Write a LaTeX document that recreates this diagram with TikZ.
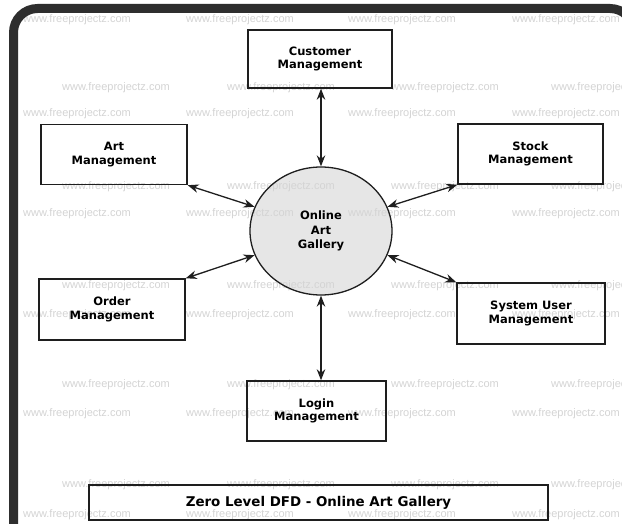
\documentclass[tikz,border=0pt]{standalone}
\usepackage{fontspec}
\setmainfont{DejaVu Sans}
\newfontfamily\wmfont{Liberation Sans}
\usetikzlibrary{arrows.meta,shapes.geometric}
\definecolor{framec}{HTML}{2E2E2E}
\definecolor{linec}{HTML}{1E1E1E}
\definecolor{cfill}{HTML}{E6E6E6}
\definecolor{wm}{HTML}{D4D4D4}
\begin{document}
\begin{tikzpicture}[x=1pt,y=-1pt,
  box/.style={draw=linec, line width=1.4pt, align=center, inner sep=0pt,
    font=\bfseries\fontsize{11.5}{13.5}\selectfont},
  hub/.style={ellipse, draw=linec, line width=1.3pt, align=center, inner sep=0pt,
    minimum width=142pt, minimum height=128pt,
    font=\bfseries\fontsize{11.5}{14.5}\selectfont},
  flow/.style={draw=linec, line width=1.3pt,
    {Stealth[length=11pt,width=8.5pt]}-{Stealth[length=11pt,width=8.5pt]}},
  wmark/.style={text=wm, font=\wmfont\fontsize{11}{11}\selectfont, anchor=west, inner sep=0pt}]
\useasboundingbox (0,0) rectangle (622,524);
\fill[white] (0,0) rectangle (622,524);
% hub fill below the watermark
\fill[cfill] (321,231) ellipse [x radius=71, y radius=64];
% watermark grid
\foreach \yy [count=\r] in {20,114,214,315,414,515}
  \foreach \xx [count=\k] in {23,186,348,512}
    \node[wmark] (wa\r-\k) at (\xx,\yy) {www.freeprojectz.com};
\foreach \yy [count=\r] in {88,187,286,385,485}
  \foreach \xx [count=\k] in {62,227,391,551}
    \node[wmark] (wb\r-\k) at (\xx,\yy) {www.freeprojectz.com};
% frame
\begin{scope}
  \clip (0,0) rectangle (622,524);
  \draw[framec, line width=9pt, rounded corners=24pt]
    (13.5,540) -- (13.5,8.5) -- (634,8.5) -- (634,540);
\end{scope}
% nodes
\node[hub] (c) at (321,231) {Online\\Art\\Gallery};
\node[box, minimum width=144pt, minimum height=58pt] (cust) at (320,59) {Customer\\Management};
\node[box, minimum width=146pt, minimum height=60pt] (art) at (114,154.5) {Art\\Management};
\node[box, minimum width=145pt, minimum height=60pt] (stock) at (530.5,154) {Stock\\Management};
\node[box, minimum width=146pt, minimum height=61pt] (order) at (112,309.5) {Order\\Management};
\node[box, minimum width=148pt, minimum height=61pt] (sys) at (531,313.5) {System User\\Management};
\node[box, minimum width=139pt, minimum height=60pt] (login) at (316.5,411) {Login\\Management};
\node[box, minimum width=459pt, minimum height=35pt,
  font=\bfseries\fontsize{13.4}{16}\selectfont] (title) at (318.5,502.5) {Zero Level DFD - Online Art Gallery};
% connectors
\draw[flow] (cust.south -| c.north) -- (c.north);
\draw[flow] (art.south east) -- (c.160);
\draw[flow] (stock.south west) -- (c.20);
\draw[flow] (order.north east) -- (c.200);
\draw[flow] (sys.north west) -- (c.-20);
\draw[flow] (login.north -| c.south) -- (c.south);
\end{tikzpicture}
\end{document}
